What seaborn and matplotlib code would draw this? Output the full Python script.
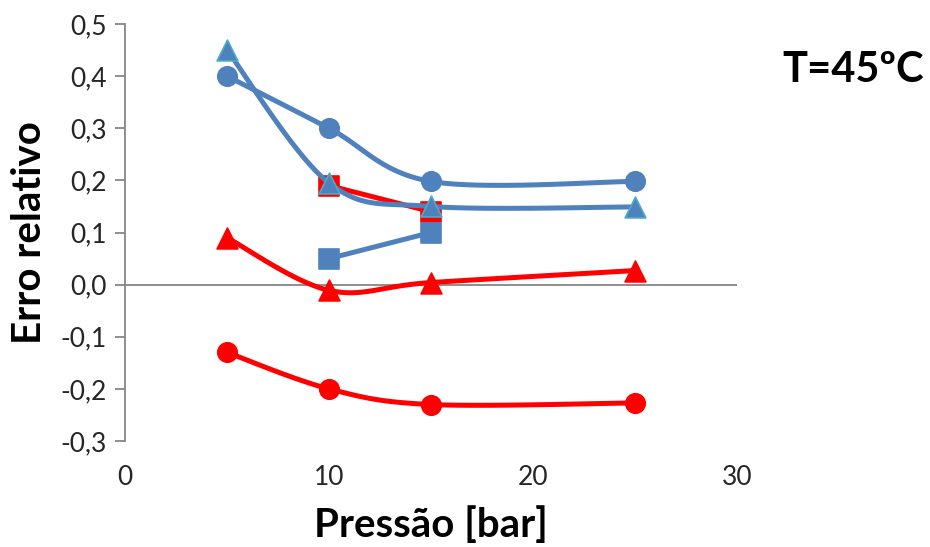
import numpy as np
import pandas as pd
import matplotlib
matplotlib.use("Agg")
import matplotlib.pyplot as plt
import seaborn as sns

# Pressure points (bar)
pressure = [5, 10, 15, 25]
pressure_sq = [10, 15]

# Relative error per model / series
red_circle = [-0.13, -0.20, -0.23, -0.227]
red_triangle = [0.09, -0.011, 0.004, 0.027]
red_square = [0.19, 0.14]
blue_square = [0.05, 0.10]
blue_circle = [0.40, 0.30, 0.198, 0.198]
blue_triangle = [0.45, 0.195, 0.15, 0.149]

RED = "#FF0000"
BLUE = "#4F81BD"
TEAL = "#4BACC6"
AXIS_GREY = "#868686"


def smooth(xs, ys, n=40):
    """Cardinal (Catmull-Rom) Bezier curve through the points, like a spreadsheet smoothed line."""
    p = np.column_stack([xs, ys]).astype(float)
    if len(p) < 3:
        return p[:, 0], p[:, 1]
    ext = np.vstack([p[0], p, p[-1]])
    out = []
    t = np.linspace(0, 1, n)[:, None]
    for i in range(len(p) - 1):
        p0, p1, p2, p3 = ext[i], ext[i + 1], ext[i + 2], ext[i + 3]
        c1 = p1 + (p2 - p0) / 6.0
        c2 = p2 - (p3 - p1) / 6.0
        seg = ((1 - t) ** 3) * p1 + 3 * ((1 - t) ** 2) * t * c1 + 3 * (1 - t) * t ** 2 * c2 + t ** 3 * p2
        out.append(seg if i == 0 else seg[1:])
    out = np.vstack(out)
    return out[:, 0], out[:, 1]


sns.set_theme(style="white")
plt.rcParams["font.family"] = ["Lato", "DejaVu Sans"]

fig = plt.figure(figsize=(9.3, 5.47), dpi=100)
ax = fig.add_axes([125 / 930, 1 - 441 / 547, (737 - 125) / 930, (441 - 24) / 547])

series = [
    (pressure, red_circle, RED, RED, "o", 14),
    (pressure, red_triangle, RED, RED, "^", 15),
    (pressure_sq, red_square, RED, RED, "s", 14),
    (pressure_sq, blue_square, BLUE, BLUE, "s", 14),
    (pressure, blue_circle, BLUE, BLUE, "o", 14),
    (pressure, blue_triangle, BLUE, TEAL, "^", 15),
]

z = 3
for xs, ys, col, edge, mk, ms in series:
    sx, sy = smooth(xs, ys)
    sns.lineplot(x=sx, y=sy, sort=False, color=col, lw=3.6, ax=ax, zorder=z, estimator=None)
    sns.scatterplot(x=xs, y=ys, marker=mk, s=ms ** 2, color=col, edgecolor=edge,
                    linewidth=1.2, ax=ax, zorder=z + 1)
    z += 2

ax.set_xlim(0, 30)
ax.set_ylim(-0.3, 0.5)
ax.set_xticks([0, 10, 20, 30])
ax.set_yticks(np.round(np.arange(-0.3, 0.51, 0.1), 1))
ax.set_yticklabels([f"{v:.1f}".replace(".", ",") for v in np.arange(-0.3, 0.51, 0.1)])
ax.axhline(0, color=AXIS_GREY, lw=1.3, zorder=1)

for s in ["top", "right", "bottom"]:
    ax.spines[s].set_visible(False)
ax.spines["left"].set_color(AXIS_GREY)
ax.spines["left"].set_linewidth(1.3)

ax.tick_params(axis="y", which="major", direction="out", length=7, width=1.3,
               color=AXIS_GREY, labelsize=19, labelcolor="#262626", pad=6, left=True)
ax.tick_params(axis="x", which="major", length=0, labelsize=19, labelcolor="#262626", pad=17)

ax.set_xlabel("Pressão [bar]", fontsize=29, fontweight="bold", color="black", va="center")
ax.set_ylabel("Erro relativo", fontsize=29, fontweight="bold", color="black", va="center")
ax.xaxis.set_label_coords(0.5, (441 - 525) / 417)
ax.yaxis.set_label_coords((30 - 125) / 612, 0.5)
fig.text(853 / 930, 1 - 70 / 547, "T=45ºC", fontsize=30, fontweight="bold",
         ha="center", va="center", color="black")

fig.savefig("out.png", dpi=100)
